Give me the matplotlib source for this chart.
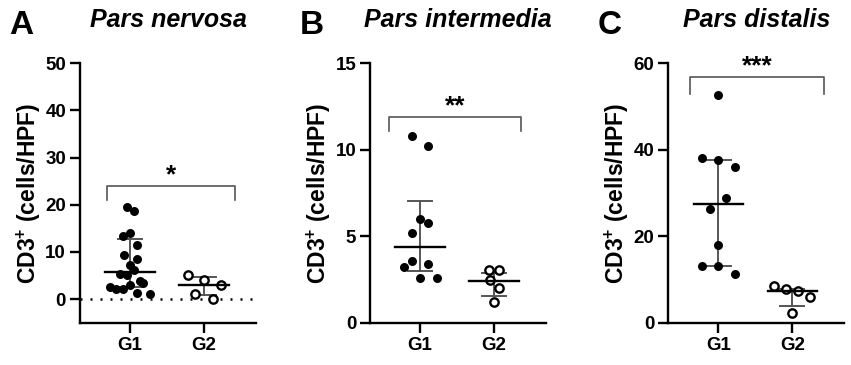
import numpy as np
import matplotlib
matplotlib.use('Agg')
import matplotlib.pyplot as plt

plt.rcParams['font.family'] = ['Liberation Sans', 'DejaVu Sans']
plt.rcParams['font.weight'] = 'bold'
plt.rcParams['mathtext.fontset'] = 'custom'
plt.rcParams['mathtext.rm'] = 'Liberation Sans:bold'
plt.rcParams['mathtext.bf'] = 'Liberation Sans:bold'

groups = ['G1', 'G2']
titles = ['Pars nervosa', 'Pars intermedia', 'Pars distalis']
letters = ['A', 'B', 'C']
stars = ['*', '**', '***']

# values (CD3+ cells/HPF)
nerv_g1 = [19.5, 18.6, 13.3, 14.0, 11.5, 9.4, 8.4, 7.3, 5.4, 5.2, 6.2,
           3.9, 3.4, 2.5, 2.1, 2.1, 3.0, 1.3, 1.1]
nerv_g2 = [5.1, 4.0, 3.0, 1.1, 0.1]
inter_g1 = [10.8, 10.2, 6.0, 5.75, 5.17, 3.2, 3.57, 3.38, 2.57, 2.57]
inter_g2 = [3.03, 3.03, 2.45, 1.99, 1.18]
dist_g1 = [52.7, 38.1, 37.7, 35.9, 28.9, 26.2, 18.0, 13.0, 13.0, 11.2]
dist_g2 = [8.5, 7.9, 7.4, 5.9, 2.2]

# median and interquartile range drawn on each column (center, low, high)
nerv_stats = [(5.8, 2.6, 12.8), (2.9, 0.9, 4.6)]
inter_stats = [(4.4, 3.0, 7.03), (2.4, 1.55, 2.9)]
dist_stats = [(27.5, 13.0, 37.7), (7.4, 3.9, 7.9)]

# horizontal scatter of the dots (fraction of group spacing)
nerv_g1_jit = [-0.04, 0.058, -0.095, 0.0, 0.095, -0.085, 0.095, 0.0, -0.13, -0.04, 0.058,
               0.14, 0.18, -0.27, -0.185, -0.09, 0.0, 0.095, 0.27]
nerv_g2_jit = [-0.216, 0.0, 0.234, -0.118, 0.118]
inter_g1_jit = [-0.112, 0.112, 0.0, 0.112, -0.112, -0.22, -0.112, 0.112, 0.0, 0.225]
inter_g2_jit = [-0.064, 0.064, -0.054, 0.07, 0.0]
dist_g1_jit = [0.0, -0.225, 0.0, 0.22, 0.108, -0.115, 0.0, -0.225, 0.0, 0.22]
dist_g2_jit = [-0.25, -0.09, 0.075, 0.24, 0.0]

panels = [
    dict(vals=[nerv_g1, nerv_g2], jit=[nerv_g1_jit, nerv_g2_jit], stats=nerv_stats,
         ylim=(-5, 50), ticks=np.arange(0, 51, 10), br=(0.69, 2.42, 23.9, 21.0), zero=True),
    dict(vals=[inter_g1, inter_g2], jit=[inter_g1_jit, inter_g2_jit], stats=inter_stats,
         ylim=(0, 15), ticks=np.arange(0, 16, 5), br=(0.585, 2.36, 11.9, 11.1), zero=False),
    dict(vals=[dist_g1, dist_g2], jit=[dist_g1_jit, dist_g2_jit], stats=dist_stats,
         ylim=(0, 60), ticks=np.arange(0, 61, 20), br=(0.62, 2.43, 56.8, 53.0), zero=False),
]

fig = plt.figure(figsize=(8.51, 3.65), dpi=100)
lefts = [0.094, 0.4348, 0.7853]
gray = '#555555'

for i, p in enumerate(panels):
    ax = fig.add_axes([lefts[i], 0.1159, 0.2068, 0.7107])
    xs = [1, 2]
    for k in range(2):
        x = xs[k] + np.array(p['jit'][k])
        if k == 0:
            ax.scatter(x, p['vals'][k], s=42, color='black', zorder=3, linewidths=0)
        else:
            ax.scatter(x, p['vals'][k], s=36, facecolor='white', edgecolor='black',
                       linewidths=1.7, zorder=3)
        c, lo, hi = p['stats'][k]
        ax.plot([xs[k], xs[k]], [lo, hi], color=gray, lw=1.4, zorder=2)
        ax.plot([xs[k] - 0.165, xs[k] + 0.165], [lo, lo], color=gray, lw=1.4, zorder=2)
        ax.plot([xs[k] - 0.165, xs[k] + 0.165], [hi, hi], color=gray, lw=1.4, zorder=2)
        ax.plot([xs[k] - 0.333, xs[k] + 0.333], [c, c], color='black', lw=1.7, zorder=4)

    if p['zero']:
        ax.axhline(0, color='black', lw=1.8, ls=(0, (0.8, 3.2)), zorder=1)

    x0, x1, yb, ye = p['br']
    ax.plot([x0, x0, x1, x1], [ye, yb, yb, ye], color=gray, lw=1.2, clip_on=False)
    ax.annotate(stars[i], xy=((x0 + x1) / 2, yb), xytext=(0, -1), textcoords='offset points',
                ha='center', va='bottom', fontsize=19, fontweight='bold')

    ax.set_xlim(0.324, 2.703)
    ax.set_ylim(*p['ylim'])
    ax.set_yticks(p['ticks'])
    ax.set_xticks(xs)
    ax.set_xticklabels(groups)
    for s in ['top', 'right']:
        ax.spines[s].set_visible(False)
    for s in ['left', 'bottom']:
        ax.spines[s].set_linewidth(1.7)
    ax.tick_params(width=1.7, length=7, labelsize=13.5, pad=3)
    ax.set_ylabel(r'CD3$^{+}$ (cells/HPF)', fontsize=16.5, fontweight='bold', labelpad=2)
    ax.set_title(titles[i], fontsize=18, fontweight='bold', style='italic', pad=26)
    fig.text(lefts[i] - 0.083, 0.93, letters[i], fontsize=24, fontweight='bold', ha='left', va='center')

fig.savefig('out.png', dpi=100)
